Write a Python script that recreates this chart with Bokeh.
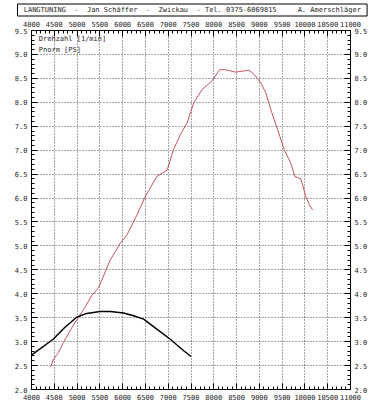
from bokeh.plotting import figure
from bokeh.models import LinearAxis, SingleIntervalTicker, PrintfTickFormatter, Range1d, Label
from bokeh.embed import file_html
from bokeh.resources import INLINE

# ---- data read from the dyno sheet ----
header_text = "LANGTUNING  -  Jan Schäffer  -  Zwickau  - Tel. 0375-6069815     A. Amerschläger"
legend_1 = "Drehzahl [1/min]"
legend_2 = "Pnorm [PS]"

red_rpm = [4420, 4475, 4590, 4700, 4845, 5030, 5175, 5320, 5430, 5470, 5505, 5725, 5945,
           6090, 6310, 6495, 6750, 6865, 6975, 7120, 7265, 7415, 7560, 7745, 7965, 8130,
           8260, 8480, 8625, 8770, 8880, 9030, 9140, 9250, 9400, 9545, 9690, 9780, 9910,
           10020, 10095, 10170]
red_val = [2.47, 2.62, 2.77, 2.98, 3.23, 3.51, 3.72, 3.96, 4.08, 4.13, 4.20, 4.70, 5.05,
           5.22, 5.64, 6.03, 6.45, 6.52, 6.58, 7.02, 7.32, 7.57, 7.99, 8.27, 8.45, 8.68,
           8.68, 8.63, 8.65, 8.67, 8.59, 8.41, 8.20, 7.85, 7.43, 7.01, 6.73, 6.45, 6.40,
           6.03, 5.86, 5.75]

black_rpm = [4000, 4475, 4735, 4990, 5210, 5505, 5725, 6020, 6240, 6460, 6750, 7045, 7340, 7500]
black_val = [2.72, 3.05, 3.30, 3.51, 3.59, 3.63, 3.63, 3.60, 3.54, 3.47, 3.26, 3.05, 2.81, 2.69]

x_min, x_max, x_step = 4000, 11000, 500
y_min, y_max, y_step = 2.0, 9.5, 0.5

FONT = "DejaVu Sans Mono"
TXT = "#1e1e1e"
NB = "\u00a0"

p = figure(width=376, height=406, output_backend="svg", toolbar_location=None,
           x_range=Range1d(x_min, x_max), y_range=Range1d(y_min, y_max),
           min_border_left=31, min_border_right=26, min_border_top=0, min_border_bottom=17)

# boxed workshop line as the title
p.title.text = NB + header_text.replace(" ", NB) + NB
p.title.align = "left"
p.title.offset = -14
p.title.standoff = 3
p.title.text_font = FONT
p.title.text_font_size = "7px"
p.title.text_font_style = "normal"
p.title.text_color = TXT
p.title.border_line_color = "black"
p.title.border_line_width = 1
p.title.padding = 2

p.add_layout(LinearAxis(), "above")
p.add_layout(LinearAxis(), "right")

xt = SingleIntervalTicker(interval=x_step, num_minor_ticks=5)
yt = SingleIntervalTicker(interval=y_step, num_minor_ticks=5)
for ax in p.xaxis:
    ax.ticker = xt
    ax.major_label_standoff = 4
for ax in p.yaxis:
    ax.ticker = yt
    ax.formatter = PrintfTickFormatter(format="%.1f")
    ax.major_label_standoff = 4
p.xgrid.ticker = xt
p.ygrid.ticker = yt

for ax in p.axis:
    ax.major_tick_in = 6
    ax.major_tick_out = 0
    ax.minor_tick_in = 3
    ax.minor_tick_out = 0
    ax.axis_line_color = "black"
    ax.major_tick_line_color = "black"
    ax.minor_tick_line_color = "black"
    ax.major_label_text_font = FONT
    ax.major_label_text_font_size = "7px"
    ax.major_label_text_color = TXT

p.grid.grid_line_color = "black"
p.grid.grid_line_alpha = 0.7
p.grid.grid_line_dash = "1 2"
p.grid.grid_line_width = 1
p.outline_line_color = None
p.background_fill_color = "white"
p.border_fill_color = "white"

p.line(red_rpm, red_val, line_color="#c85462", line_width=1)
p.line(black_rpm, black_val, line_color="black", line_width=1.5)

p.add_layout(Label(x=4160, y=9.33, text=legend_1, text_baseline="middle",
                   text_font=FONT, text_font_size="7px", text_color=TXT))
p.add_layout(Label(x=4160, y=9.10, text=legend_2, text_baseline="middle",
                   text_font=FONT, text_font_size="7px", text_color=TXT))

open("out.html", "w").write(file_html(p, INLINE))
